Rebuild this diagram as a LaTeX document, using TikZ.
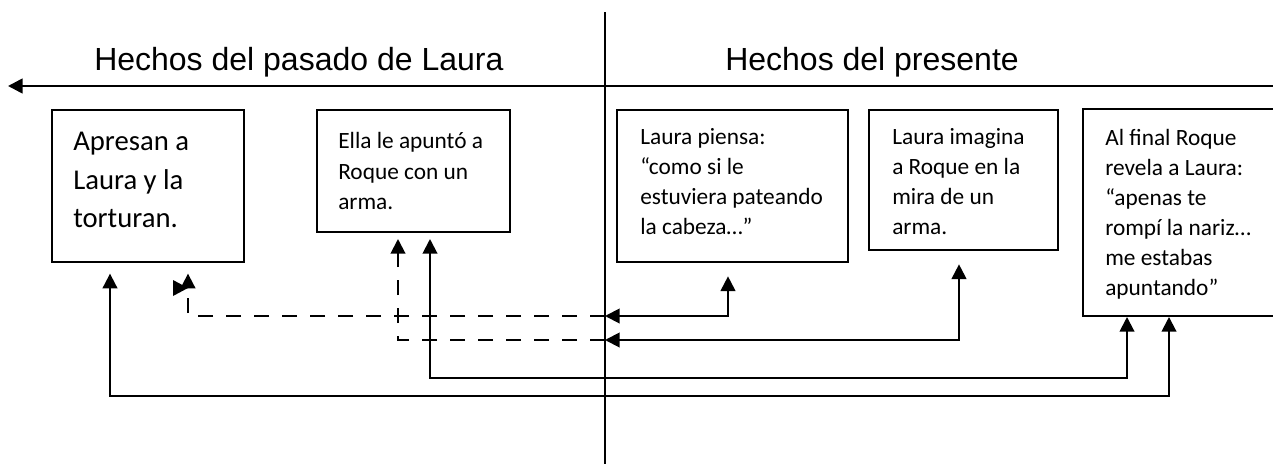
\documentclass[tikz,border=0pt]{standalone}
\usepackage{fontspec}
\setmainfont{Carlito}
\newfontfamily\titlefont{Liberation Sans}
\usetikzlibrary{arrows.meta,fit}

\tikzset{
  evbox/.style={draw, line width=1.5pt, inner sep=0pt},
  evtext/.style={anchor=north west, inner sep=0pt, align=left},
  smalltext/.style={font=\fontsize{17.5}{22.5}\selectfont},
  title/.style={anchor=base west, inner sep=0pt, font=\titlefont\fontsize{24}{29}\selectfont},
  link/.style={line width=1.5pt},
  dlink/.style={line width=1.5pt, dash pattern=on 11pt off 10pt}
}

\begin{document}
\begin{tikzpicture}[x=0.75pt,y=-0.75pt,>={Triangle[length=11pt,width=11pt]}]
\useasboundingbox (0,0) rectangle (1273,464);
% time line and divider
\draw[line width=2pt, ->] (1273,86) -- (8,86);
\draw[line width=1pt] (605,12) -- (605,464);
\coordinate (d1) at (605,316);
\coordinate (d2) at (605,340);
\node[title] (past) at (94,70) {Hechos del pasado de Laura};
\node[title] (now) at (725,70) {Hechos del presente};
% events
\node[evbox, fit={(52,110) (244,262)}] (b1) {};
\node[evbox, fit={(317,110) (510,232)}] (b2) {};
\node[evbox, fit={(617,110) (848,262)}] (b3) {};
\node[evbox, fit={(869,110) (1058,250)}] (b4) {};
\node[evbox, fit={(1083,109) (1290,316)}] (b5) {};
\node[evtext, font=\fontsize{21.5}{29}\selectfont] (t1) at (73,132) {Apresan a\\Laura y la\\torturan.};
\node[evtext, font=\fontsize{17.5}{23}\selectfont] (t2) at (338,132) {Ella le apuntó a\\Roque con un\\arma.};
\node[evtext, smalltext] (t3) at (640,128) {Laura piensa:\\“como si le\\estuviera pateando\\la cabeza…”};
\node[evtext, smalltext] (t4) at (892,128) {Laura imagina\\a Roque en la\\mira de un\\arma.};
\node[evtext, smalltext] (t5) at (1105,129) {Al final Roque\\revela a Laura:\\“apenas te\\rompí la nariz…\\me estabas\\apuntando”};
% links
\draw[link, <->, shorten >=8pt] (b5.south -| 1169,0) |- (110,396) -- (b1.south -| 110,0);
\draw[link, <->, shorten >=4.5pt] (b5.south -| 1127,0) |- (430,378) -- (b2.south -| 430,0);
\draw[link, <->, shorten <=10pt] (b3.south -| 728,0) |- (d1);
\draw[dlink, ->, shorten >=8pt] (d1) -| (b1.south -| 188,0);
\draw[link, <->, shorten <=10pt] (b4.south -| 959,0) |- (d2);
\draw[dlink, ->, shorten >=4.5pt] (d2) -| (b2.south -| 398,0);
\fill (173,280) -- (188,288) -- (173,296) -- cycle;
\end{tikzpicture}
\end{document}
